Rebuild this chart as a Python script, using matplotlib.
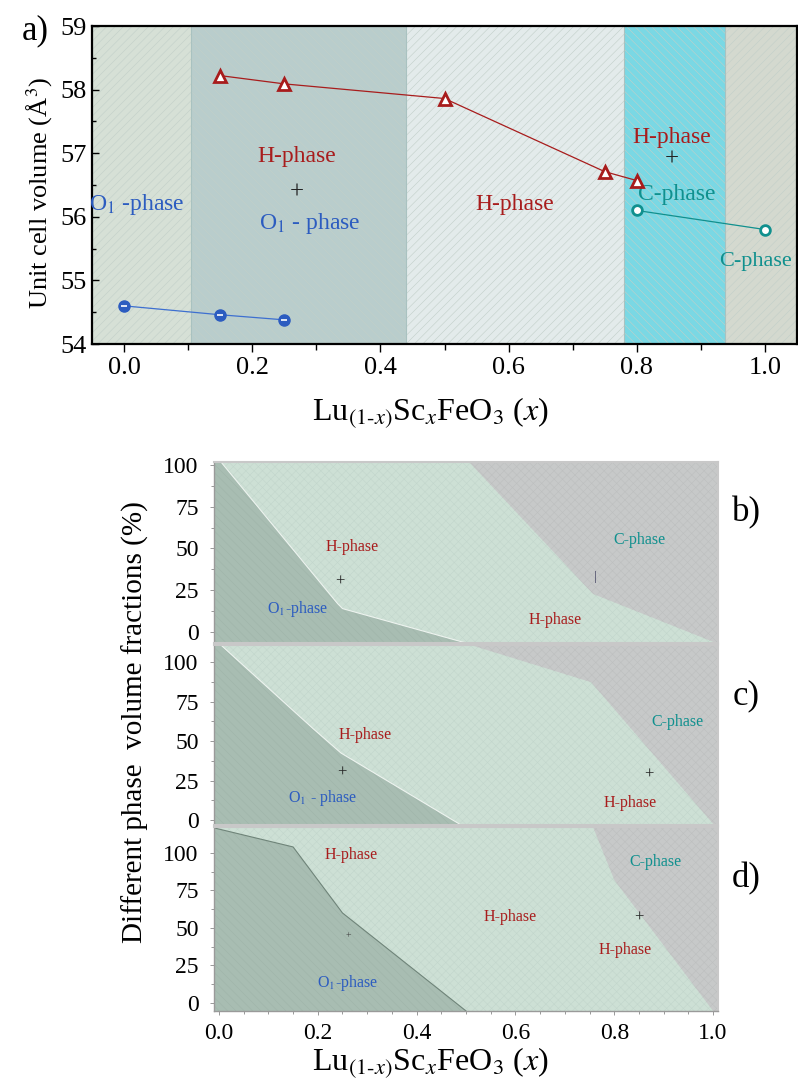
import numpy as np
import matplotlib
matplotlib.use('Agg')
import matplotlib.pyplot as plt

plt.rcParams['font.family'] = ['Liberation Serif', 'DejaVu Serif']
plt.rcParams['mathtext.fontset'] = 'stix'
plt.rcParams['hatch.linewidth'] = 0.4

# ---- panel a data ----
o1_x = [0.0, 0.15, 0.25]
o1_v = [54.60, 54.46, 54.38]
h_x = [0.15, 0.25, 0.5, 0.75, 0.8]
h_v = [58.22, 58.09, 57.86, 56.71, 56.57]
c_x = [0.8, 1.0]
c_v = [56.10, 55.80]

# phase region borders along x and their colours
region_edges = [-0.05, 0.105, 0.44, 0.78, 0.9375, 1.05]
region_colors = ['#d6e0d6', '#b9cdcc', '#e3ebeb', '#7ad8e4', '#d4d9cf']
region_hatch = ['////', '\\\\\\\\', '////', '\\\\\\\\', '////']

blue = '#2c5cc0'
red = '#a81c1c'
teal = '#10908e'

# ---- panels b, c, d data (phase fraction borders, %) ----
b_ylim = [-6.6, 101.8]
b_o1_x = [-0.01, 0.004, 0.24, 0.25, 0.50]
b_o1_y = [101.8, 101.8, 17, 14, -6.6]
b_c_x = [0.506, 0.757, 1.006, 1.01]
b_c_y = [101.8, 22.8, -6.6, -6.6]

c_ylim = [-3.2, 110.8]
c_o1_x = [-0.01, 0.004, 0.19, 0.247, 0.49]
c_o1_y = [110.8, 110.8, 58, 42.4, -3.2]
c_c_x = [0.51, 0.753, 1.002, 1.01]
c_c_y = [110.8, 87.3, -3.2, -3.2]

d_ylim = [-5.3, 117.3]
d_o1_x = [-0.01, 0.15, 0.25, 0.50]
d_o1_y = [116.7, 104, 60, -5.3]
d_c_x = [0.757, 0.80, 1.0, 1.01]
d_c_y = [117.3, 82, -5.3, -5.3]

xlabel = r'Lu$_{\mathrm{(1}\text{-}x\mathrm{)}}$Sc$_{x}$FeO$_{3}$ ($x$)'

fig = plt.figure(figsize=(7.98, 10.88), dpi=100)

# ================= panel a =================
ax = fig.add_axes([0.1153, 0.6838, 0.8835, 0.2923])
for i in range(len(region_colors)):
    ax.axvspan(region_edges[i], region_edges[i + 1], facecolor=region_colors[i],
               edgecolor='#c2cfc9', hatch=region_hatch[i], lw=0, zorder=0)
    if 0 < i:
        ax.axvline(region_edges[i], color='#a9c2c0', lw=0.8, zorder=1)

ax.plot(o1_x, o1_v, '-', color='#3d6fd0', lw=0.9, zorder=3)
ax.plot(o1_x, o1_v, 'o', color=blue, ms=8, zorder=4)
ax.plot(o1_x, o1_v, '_', color='white', ms=4, mew=1.2, zorder=5)
ax.plot(h_x, h_v, '-', color=red, lw=0.9, zorder=3)
ax.plot(h_x, h_v, '^', mfc='white', mec=red, mew=2, ms=8, zorder=4)
ax.plot(c_x, c_v, '-', color=teal, lw=0.9, zorder=3)
ax.plot(c_x, c_v, 'o', mfc='white', mec=teal, mew=2, ms=7, zorder=4)

ax.set_xlim(-0.05, 1.05)
ax.set_ylim(54, 59)
ax.set_xticks([0.0, 0.2, 0.4, 0.6, 0.8, 1.0])
ax.set_xticks([0.1, 0.3, 0.5, 0.7, 0.9], minor=True)
ax.set_yticks([54, 55, 56, 57, 58, 59])
ax.set_yticks(np.arange(54.5, 59, 1.0), minor=True)
ax.set_xticklabels(['0.0', '0.2', '0.4', '0.6', '0.8', '1.0'])
ax.tick_params(axis='x', direction='out', length=6, width=1, labelsize=19, pad=3)
ax.tick_params(axis='x', which='minor', direction='out', length=4, width=1)
ax.tick_params(axis='y', direction='in', length=5, width=1, labelsize=19, pad=4)
ax.tick_params(axis='y', which='minor', direction='in', length=3, width=1)
for s in ax.spines.values():
    s.set_linewidth(1.6)

ax.text(0.02, 56.2, r'O$_1$ -phase', color=blue, fontsize=17, ha='center', va='center')
ax.text(0.27, 56.95, 'H-phase', color=red, fontsize=17, ha='center', va='center')
ax.text(0.27, 56.38, '+', color='#222222', fontsize=18, ha='center', va='center')
ax.text(0.29, 55.9, r'O$_1$ - phase', color=blue, fontsize=17, ha='center', va='center')
ax.text(0.61, 56.2, 'H-phase', color=red, fontsize=17, ha='center', va='center')
ax.text(0.855, 57.25, 'H-phase', color=red, fontsize=17, ha='center', va='center')
ax.text(0.855, 56.9, '+', color='#222222', fontsize=18, ha='center', va='center')
ax.text(0.862, 56.35, 'C-phase', color=teal, fontsize=17, ha='center', va='center')
ax.text(0.985, 55.3, 'C-phase', color=teal, fontsize=16, ha='center', va='center')

fig.text(0.044, 0.972, 'a)', fontsize=25, ha='center', va='center')
fig.text(0.05, 0.823, 'Unit cell volume (Å$^3$)', fontsize=19,
         rotation=90, ha='center', va='center')
fig.text(0.54, 0.621, xlabel, fontsize=23, ha='center', va='center')

# ================= panels b, c, d =================
h_col = '#cde0d5'
o1_col = '#a8bdb2'
c_col = '#c7c9c9'

panels = [
    ([0.2682, 0.4090, 0.6316, 0.1664], b_ylim, b_o1_x, b_o1_y, b_c_x, b_c_y, 'b)'),
    ([0.2682, 0.2417, 0.6316, 0.1654], c_ylim, c_o1_x, c_o1_y, c_c_x, c_c_y, 'c)'),
    ([0.2682, 0.0708, 0.6316, 0.1691], d_ylim, d_o1_x, d_o1_y, d_c_x, d_c_y, 'd)'),
]
axes = []
for rect, ylim, ox, oy, cx, cy, tag in panels:
    bx = fig.add_axes(rect)
    bx.set_facecolor(h_col)
    bx.fill_between([-0.01, 1.01], ylim[0], ylim[1], facecolor='none',
                    edgecolor='#c2d6cc', hatch='xxxx', lw=0, zorder=0)
    bx.fill_between(ox, ylim[0], oy, facecolor=o1_col, edgecolor='#9fb4aa',
                    hatch='\\\\\\\\', lw=0, zorder=1)
    bx.fill_between(cx, cy, ylim[1], facecolor=c_col, edgecolor='#bdbfbf',
                    hatch='xxxx', lw=0, zorder=1)
    bx.plot(ox, oy, color='#eef4f0' if tag != 'd)' else '#6f8479', lw=0.8, zorder=2)
    bx.set_xlim(-0.01, 1.01)
    bx.set_ylim(ylim)
    bx.set_yticks([0, 25, 50, 75, 100])
    bx.set_yticks([12.5, 37.5, 62.5, 87.5], minor=True)
    bx.tick_params(axis='y', direction='out', length=3, width=0.6, color='#888888',
                   labelsize=17, pad=8)
    bx.tick_params(axis='y', which='minor', direction='out', length=2, width=0.6,
                   color='#888888')
    for s in bx.spines.values():
        s.set_color('#c8c8c8')
        s.set_linewidth(1.5)
    bx.spines['left'].set_color('#9a9a9a')
    bx.spines['left'].set_linewidth(1.0)
    fig.text(0.935, rect[1] + rect[3] * 0.72, tag, fontsize=25, ha='center', va='center')
    axes.append(bx)

axb, axc, axd = axes
for a in (axb, axc):
    a.set_xticks([])

axd.set_xticks([0.0, 0.2, 0.4, 0.6, 0.8, 1.0])
axd.set_xticks(np.arange(0.05, 1.0, 0.05), minor=True)
axd.set_xticklabels(['0.0', '0.2', '0.4', '0.6', '0.8', '1.0'])
axd.tick_params(axis='x', direction='out', length=3, width=0.6, color='#888888',
                labelsize=17, pad=6)
axd.tick_params(axis='x', which='minor', direction='out', length=2, width=0.6,
                color='#888888')
axd.spines['bottom'].set_color('#9a9a9a')
axd.spines['bottom'].set_linewidth(1.0)

lab = dict(fontsize=11.5, ha='center', va='center')
# b
axb.text(0.27, 51, 'H-phase', color=red, **lab)
axb.text(0.245, 30, '+', color='#222222', fontsize=12, ha='center', va='center')
axb.text(0.16, 14, r'O$_1$-phase', color=blue, **lab)
axb.text(0.85, 55, 'C-phase', color=teal, **lab)
axb.text(0.762, 33, '|', color='#333355', fontsize=9, ha='center', va='center')
axb.text(0.68, 7, 'H-phase', color=red, **lab)
# c
axc.text(0.295, 54, 'H-phase', color=red, **lab)
axc.text(0.249, 30, '+', color='#222222', fontsize=12, ha='center', va='center')
axc.text(0.21, 14, r'O$_1$ - phase', color=blue, **lab)
axc.text(0.927, 62, 'C-phase', color=teal, **lab)
axc.text(0.871, 29, '+', color='#222222', fontsize=12, ha='center', va='center')
axc.text(0.832, 11, 'H-phase', color=red, **lab)
# d
axd.text(0.268, 98.5, 'H-phase', color=red, **lab)
axd.text(0.261, 45, '+', color='#444444', fontsize=7, ha='center', va='center')
axd.text(0.26, 13.5, r'O$_1$-phase', color=blue, **lab)
axd.text(0.59, 57, 'H-phase', color=red, **lab)
axd.text(0.85, 57, '+', color='#222222', fontsize=12, ha='center', va='center')
axd.text(0.883, 94, 'C-phase', color=teal, **lab)
axd.text(0.823, 35, 'H-phase', color=red, **lab)

fig.text(0.169, 0.336, 'Different phase  volume fractions (%)', fontsize=21,
         rotation=90, ha='center', va='center')
fig.text(0.54, 0.0235, xlabel, fontsize=23, ha='center', va='center')

fig.savefig('out.png', dpi=100)
